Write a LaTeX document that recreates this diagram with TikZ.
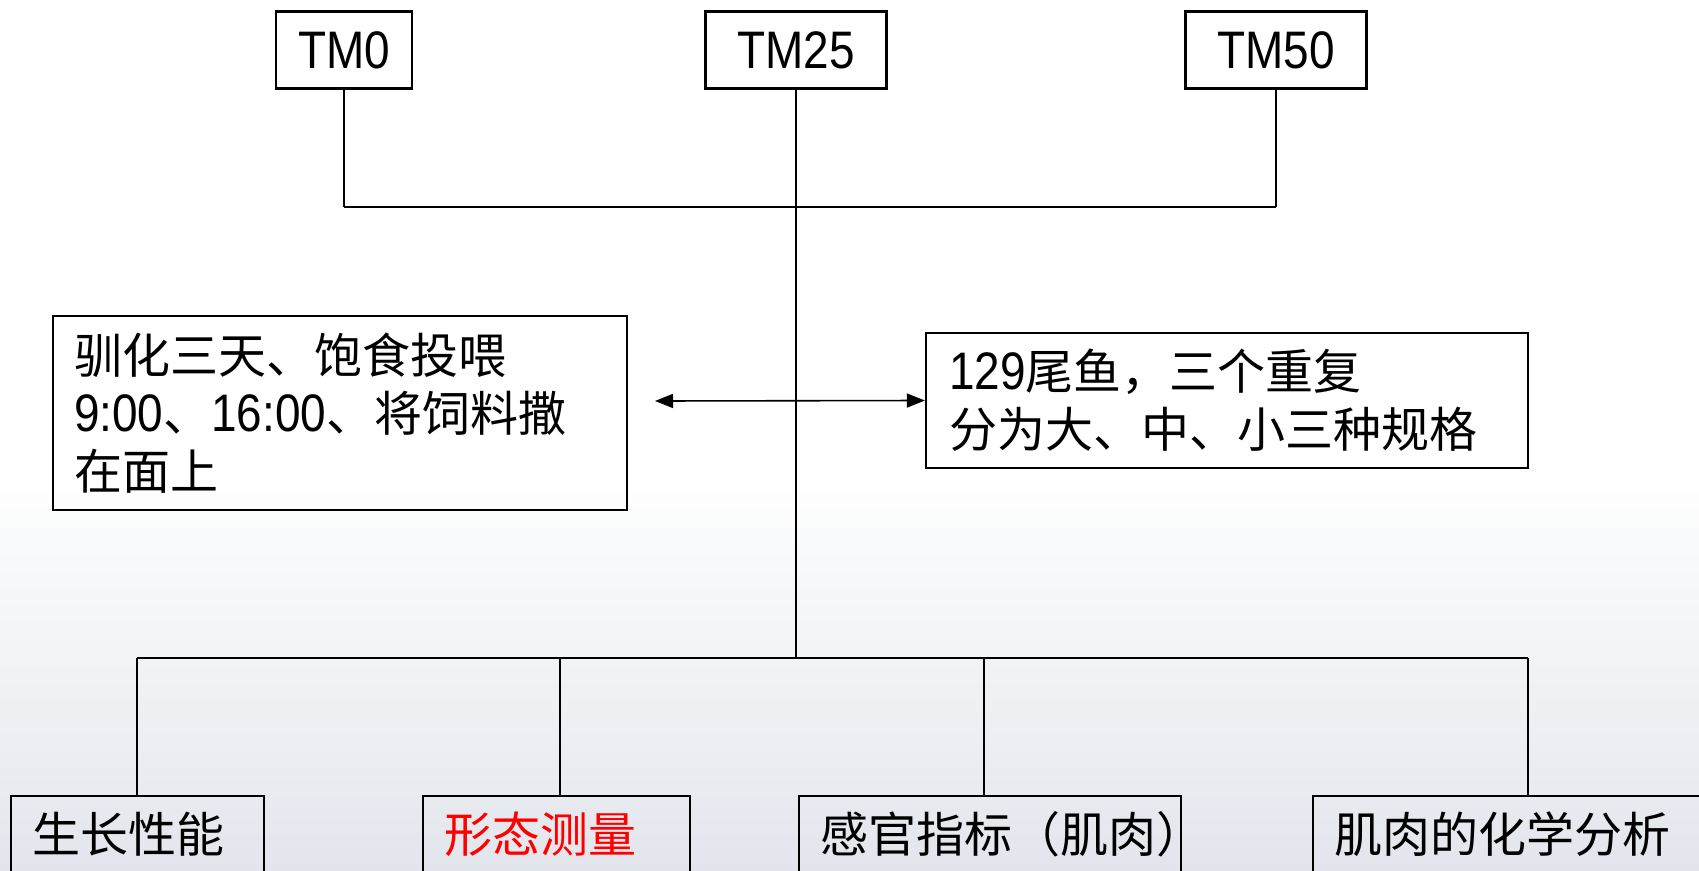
\documentclass[tikz,border=0pt]{standalone}
\usepackage{fontspec}
\setmainfont{Liberation Sans}[Scale=1.1,FakeStretch=0.87]
\newfontfamily\cjk{Noto Sans CJK SC}
\usetikzlibrary{arrows.meta}
\definecolor{bglow}{RGB}{226,230,236}
\definecolor{txtred}{RGB}{255,0,0}
\begin{document}
\begin{tikzpicture}[x=1pt,y=-1pt,
  box/.style={draw, line width=2.2pt, inner sep=0pt, font=\fontsize{48}{58}\selectfont},
  tbox/.style={box, align=left, inner xsep=21pt},
  vline/.style={line width=1.6pt},
  busline/.style={line width=2.5pt},
  tip/.style={{Triangle[length=18pt,width=14pt]}-{Triangle[length=18pt,width=14pt]}}]
\useasboundingbox (0,0) rectangle (1699,870);
\shade[top color=white, bottom color=bglow] (0,470) rectangle (1699,870);
% top boxes
\node[box, minimum width=136pt, minimum height=77pt] (tm0) at (344,50) {TM0};
\node[box, minimum width=181pt, minimum height=77pt] (tm25) at (796,50) {TM25};
\node[box, minimum width=181pt, minimum height=77pt] (tm50) at (1276,50) {TM50};
% middle boxes
\node[tbox, text width=532pt, minimum height=194pt] (lb) at (340,413)
  {{\cjk 驯化三天、饱食投喂}\\9:00{\cjk 、}16:00{\cjk 、将饲料撒}\\{\cjk 在面上}};
\node[tbox, text width=556pt, inner xsep=23pt, minimum height=135pt] (rb) at (1227,400.5)
  {129{\cjk 尾鱼，三个重复}\\{\cjk 分为大、中、小三种规格}};
% bottom boxes
\node[tbox, text width=211pt, minimum height=76pt] (b1) at (137.5,834) {{\cjk 生长性能}};
\node[tbox, text width=225pt, minimum height=76pt] (b2) at (556.5,834) {\textcolor{txtred}{\cjk 形态测量}};
\node[tbox, text width=340pt, minimum height=76pt] (b3) at (990,834) {{\cjk 感官指标（肌肉）}};
\node[tbox, text width=365pt, minimum height=76pt] (b4) at (1516.5,834) {{\cjk 肌肉的化学分析}};
% coordinates
\coordinate (topbus) at (796,207);
\coordinate (botbus) at (796,658);
\coordinate (al) at (655,401);
\coordinate (d1) at (137,658);
\coordinate (d2) at (560,658);
\coordinate (d3) at (984,658);
\coordinate (d4) at (1528,658);
% connectors
\draw[vline] (tm0.south) -- (tm0.south |- topbus);
\draw[vline] (tm50.south) -- (tm50.south |- topbus);
\draw[busline] (tm0.south |- topbus) -- (tm50.south |- topbus);
\draw[vline] (tm25.south) -- (botbus);
\draw[vline, tip] (al) -- (rb.west);
\draw[busline] (d1) -- (d4);
\draw[vline] (d1) -- (d1 |- b1.north);
\draw[vline] (d2) -- (d2 |- b2.north);
\draw[vline] (d3) -- (d3 |- b3.north);
\draw[vline] (d4) -- (d4 |- b4.north);
\end{tikzpicture}
\end{document}
